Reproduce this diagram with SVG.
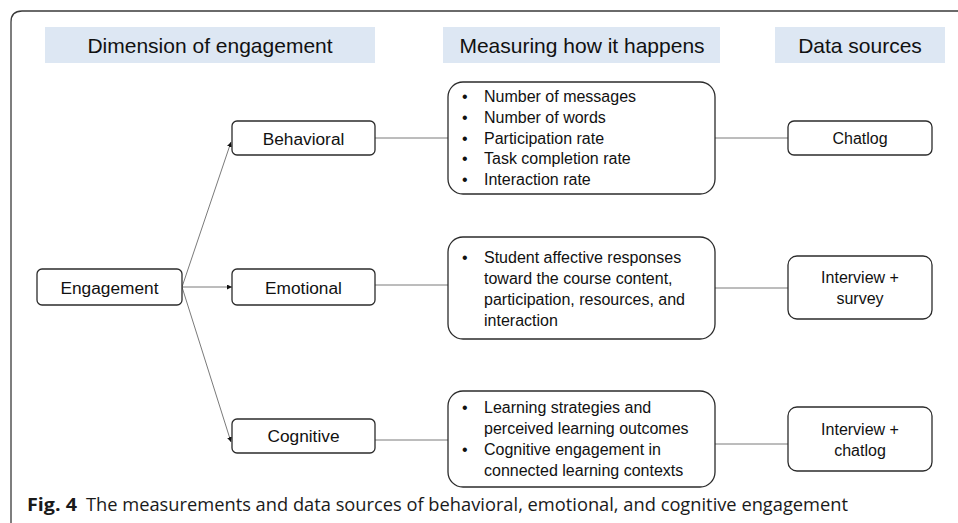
<svg xmlns="http://www.w3.org/2000/svg" width="958" height="523" viewBox="0 0 958 523">
  <defs>
    <marker id="tip" viewBox="0 0 10 10" refX="10" refY="5" markerWidth="5" markerHeight="5" orient="auto" markerUnits="userSpaceOnUse">
      <path d="M0,0 L10,5 L0,10 z" fill="#111"/>
    </marker>
    <style>
      .frame { fill: none; stroke: #3a3a3a; stroke-width: 1.3; }
      .hdr { fill: #dde7f3; }
      .hdr-t { font-family: "Liberation Sans", Arial, sans-serif; font-size: 21px; fill: #111; text-anchor: middle; }
      .box { fill: #fff; stroke: #2b2b2b; stroke-width: 1.3; }
      .lbl { font-family: "Liberation Sans", Arial, sans-serif; font-size: 17.3px; fill: #111; text-anchor: middle; }
      .src { font-family: "Liberation Sans", Arial, sans-serif; font-size: 16px; fill: #111; text-anchor: middle; }
      .item { font-family: "Liberation Sans", Arial, sans-serif; font-size: 16px; fill: #111; }
      .link { fill: none; stroke: #7a7a7a; stroke-width: 1; }
      .cap { font-family: "Open Sans", "Noto Sans", sans-serif; font-size: 18px; fill: #1a1a1a; }
    </style>
  </defs>

  <rect width="958" height="523" fill="#fff"/>

  <!-- outer frame, open to the right and bottom -->
  <path class="frame" d="M11,523 V22 Q11,11 22,11 H958"/>

  <!-- column headings -->
  <g id="heading-dimension">
    <rect class="hdr" x="45" y="27" width="330" height="36"/>
    <text class="hdr-t" x="210" y="53">Dimension of engagement</text>
  </g>
  <g id="heading-measuring">
    <rect class="hdr" x="443" y="27" width="277" height="36"/>
    <text class="hdr-t" x="582" y="53">Measuring how it happens</text>
  </g>
  <g id="heading-sources">
    <rect class="hdr" x="775" y="27" width="170" height="36"/>
    <text class="hdr-t" x="860" y="53">Data sources</text>
  </g>

  <!-- connectors -->
  <g id="connectors">
    <line class="link" x1="182" y1="287" x2="231" y2="142" marker-end="url(#tip)"/>
    <line class="link" x1="182" y1="287" x2="232" y2="287" marker-end="url(#tip)"/>
    <line class="link" x1="182" y1="287" x2="231" y2="442" marker-end="url(#tip)"/>
    <line class="link" x1="375" y1="138" x2="448" y2="138"/>
    <line class="link" x1="715" y1="138" x2="788" y2="138"/>
    <line class="link" x1="375" y1="285" x2="448" y2="285"/>
    <line class="link" x1="715" y1="288" x2="788" y2="288"/>
    <line class="link" x1="375" y1="440" x2="448" y2="440"/>
    <line class="link" x1="715" y1="444" x2="788" y2="444"/>
  </g>

  <!-- dimension nodes -->
  <g id="engagement">
    <rect class="box" x="37" y="269" width="145" height="36" rx="5"/>
    <text class="lbl" x="109.5" y="294">Engagement</text>
  </g>
  <g id="behavioral">
    <rect class="box" x="232" y="121" width="143" height="34" rx="5"/>
    <text class="lbl" x="303.5" y="145">Behavioral</text>
  </g>
  <g id="emotional">
    <rect class="box" x="232" y="269" width="143" height="36" rx="5"/>
    <text class="lbl" x="303.5" y="294">Emotional</text>
  </g>
  <g id="cognitive">
    <rect class="box" x="232" y="419" width="143" height="34" rx="5"/>
    <text class="lbl" x="303.5" y="442">Cognitive</text>
  </g>

  <!-- measurement nodes -->
  <g id="measures-behavioral">
    <rect class="box" x="448" y="82" width="267" height="112" rx="15"/>
    <text class="item" x="462" y="102">•</text>
    <text class="item" x="484" y="102">Number of messages</text>
    <text class="item" x="462" y="123">•</text>
    <text class="item" x="484" y="123">Number of words</text>
    <text class="item" x="462" y="143.5">•</text>
    <text class="item" x="484" y="143.5">Participation rate</text>
    <text class="item" x="462" y="164">•</text>
    <text class="item" x="484" y="164">Task completion rate</text>
    <text class="item" x="462" y="185">•</text>
    <text class="item" x="484" y="185">Interaction rate</text>
  </g>
  <g id="measures-emotional">
    <rect class="box" x="448" y="237" width="267" height="102" rx="15"/>
    <text class="item" x="462" y="263">•</text>
    <text class="item" x="484" y="263">Student affective responses</text>
    <text class="item" x="484" y="284">toward the course content,</text>
    <text class="item" x="484" y="305">participation, resources, and</text>
    <text class="item" x="484" y="326">interaction</text>
  </g>
  <g id="measures-cognitive">
    <rect class="box" x="448" y="391" width="267" height="96" rx="15"/>
    <text class="item" x="462" y="413">•</text>
    <text class="item" x="484" y="413">Learning strategies and</text>
    <text class="item" x="484" y="434">perceived learning outcomes</text>
    <text class="item" x="462" y="455">•</text>
    <text class="item" x="484" y="455">Cognitive engagement in</text>
    <text class="item" x="484" y="476">connected learning contexts</text>
  </g>

  <!-- data source nodes -->
  <g id="source-chatlog">
    <rect class="box" x="788" y="121" width="144" height="34" rx="6"/>
    <text class="src" x="860" y="144">Chatlog</text>
  </g>
  <g id="source-interview-survey">
    <rect class="box" x="788" y="256" width="144" height="63" rx="9"/>
    <text class="src" x="860" y="283">Interview +</text>
    <text class="src" x="860" y="304">survey</text>
  </g>
  <g id="source-interview-chatlog">
    <rect class="box" x="788" y="407" width="144" height="64" rx="9"/>
    <text class="src" x="860" y="435">Interview +</text>
    <text class="src" x="860" y="456">chatlog</text>
  </g>

  <!-- caption -->
  <g id="caption">
    <text class="cap" x="27" y="511" font-weight="bold" textLength="50" lengthAdjust="spacingAndGlyphs">Fig. 4</text>
    <text class="cap" x="86" y="511" textLength="762" lengthAdjust="spacingAndGlyphs">The measurements and data sources of behavioral, emotional, and cognitive engagement</text>
  </g>
</svg>
